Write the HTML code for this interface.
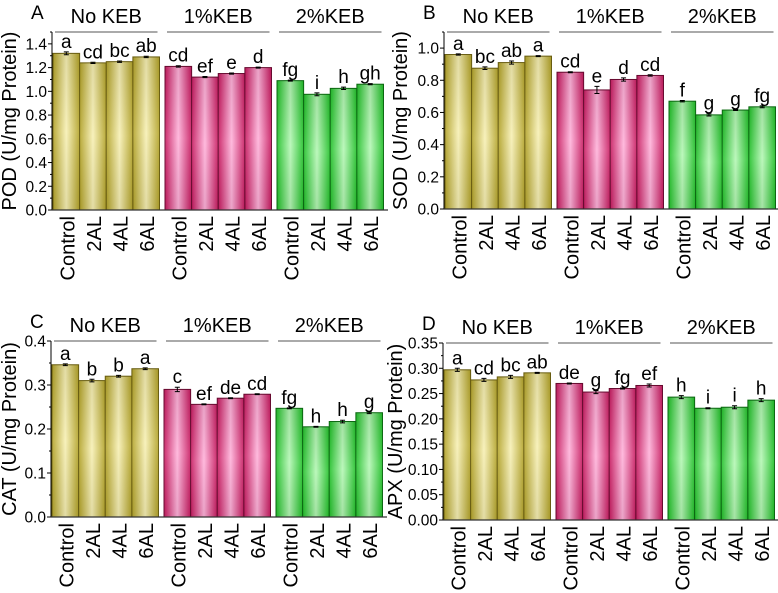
<!DOCTYPE html>
<html><head><meta charset="utf-8"><style>
body{margin:0;background:#fff}
svg{display:block;font-family:"Liberation Sans",Arial,sans-serif}
</style></head><body>
<svg id="chart" width="778" height="593" viewBox="0 0 778 593" xmlns="http://www.w3.org/2000/svg">
<defs>
<linearGradient id="gO" x1="0" x2="1" y1="0" y2="0"><stop offset="0" stop-color="#b3a328"/><stop offset="0.5" stop-color="#f7f0b5"/><stop offset="1" stop-color="#b3a328"/></linearGradient>
<linearGradient id="gP" x1="0" x2="1" y1="0" y2="0"><stop offset="0" stop-color="#c81a60"/><stop offset="0.5" stop-color="#ffb3da"/><stop offset="1" stop-color="#c81a60"/></linearGradient>
<linearGradient id="gG" x1="0" x2="1" y1="0" y2="0"><stop offset="0" stop-color="#20c028"/><stop offset="0.5" stop-color="#b5f7b5"/><stop offset="1" stop-color="#20c028"/></linearGradient>
<linearGradient id="gV" x1="0" x2="0" y1="0" y2="1"><stop offset="0" stop-color="#000" stop-opacity="0.08"/><stop offset="0.5" stop-color="#fff" stop-opacity="0.1"/><stop offset="1" stop-color="#000" stop-opacity="0.08"/></linearGradient>
</defs>
</svg>
<script>
const categories = ["Control","2AL","4AL","6AL"];
const groups = ["No KEB","1%KEB","2%KEB"];
const podValues = [1.32,1.24,1.25,1.29, 1.21,1.12,1.15,1.20, 1.09,0.975,1.025,1.06];
const podErr = [0.012,0.005,0.006,0.006, 0.006,0.005,0.005,0.004, 0.004,0.012,0.01,0.005];
const podLetters = ["a","cd","bc","ab","cd","ef","e","d","fg","i","h","gh"];
const podTicks = ["0.0","0.2","0.4","0.6","0.8","1.0","1.2","1.4"];
const sodValues = [0.96,0.875,0.91,0.95, 0.85,0.74,0.805,0.83, 0.67,0.585,0.615,0.635];
const sodErr = [0.004,0.008,0.01,0.003, 0.003,0.022,0.01,0.004, 0.004,0.007,0.003,0.006];
const sodLetters = ["a","bc","ab","a","cd","e","d","cd","f","g","g","fg"];
const sodTicks = ["0.0","0.2","0.4","0.6","0.8","1.0"];
const catValues = [0.346,0.31,0.32,0.337, 0.29,0.256,0.27,0.279, 0.247,0.205,0.217,0.237];
const catErr = [0.002,0.003,0.002,0.002, 0.005,0.001,0.001,0.001, 0.001,0.001,0.003,0.002];
const catLetters = ["a","b","b","a","c","ef","de","cd","fg","h","h","g"];
const catTicks = ["0.0","0.1","0.2","0.3","0.4"];
const apxValues = [0.297,0.277,0.283,0.291, 0.27,0.253,0.26,0.266, 0.243,0.221,0.223,0.237];
const apxErr = [0.003,0.003,0.003,0.001, 0.001,0.003,0.001,0.003, 0.003,0.001,0.003,0.003];
const apxLetters = ["a","cd","bc","ab","de","g","fg","ef","h","i","i","h"];
const apxTicks = ["0.00","0.05","0.10","0.15","0.20","0.25","0.30","0.35"];

const svg = document.getElementById('chart');
const NS = 'http://www.w3.org/2000/svg';
function mk(tag, attrs, parent){ const e=document.createElementNS(NS,tag); for(const k in attrs) e.setAttribute(k,attrs[k]); (parent||svg).appendChild(e); return e; }
const fills=['url(#gO)','url(#gP)','url(#gG)'];
const strokes=['#6b5f10','#6a0a30','#0a6a10'];

function panel(p){
  const g=mk('g',{});
  
  
  const ymax=p.ymax;
  const y=v=>p.y0-(v/ymax)*(p.y0-p.ytop);
  const gw=106.5, gap=5.5;
  const bw=gw/4;
  const x=(i)=>p.x0+1+Math.floor(i/4)*(gw+gap)+(i%4)*bw;
  const pl=mk('text',{x:p.x0-21,y:p.ytop-13,'font-size':19,fill:'#000'},g); pl.textContent=p.letter;
  
  
  groups.forEach((gn,gi)=>{
    const gx=p.x0+1+gi*(gw+gap);
    const ln=mk('line',{x1:gx+2,x2:gx+gw-2,y1:p.ytop,y2:p.ytop,stroke:'#777','stroke-width':1.2},g);
    
    
    const t=mk('text',{x:gx+gw/2,y:p.ytop-9,'font-size':20,'text-anchor':'middle',fill:'#000'},g); t.textContent=gn;
    
    
  });
  p.values.forEach((v,i)=>{
    const gi=Math.floor(i/4);
    const r=mk('rect',{x:x(i),y:y(v),width:bw,height:p.y0-y(v),fill:fills[gi],stroke:strokes[gi],'stroke-width':1},g);
    
    
    mk('rect',{x:x(i),y:y(v),width:bw,height:p.y0-y(v),fill:'url(#gV)'},g);
    const cx=x(i)+bw/2, e=p.err[i];
    const eb=mk('path',{d:`M${cx},${y(v+e)}V${y(v-e)}M${cx-2.5},${y(v+e)}H${cx+2.5}M${cx-2.5},${y(v-e)}H${cx+2.5}`,stroke:'#000','stroke-width':1,fill:'none'},g);
    
    
    const lt=mk('text',{x:cx,y:y(v+e)-4,'font-size':19,'text-anchor':'middle',fill:'#000'},g); lt.textContent=p.letters[i];
    
    
    const xl=mk('text',{x:0,y:0,'font-size':20,'text-anchor':'end',fill:'#000',transform:`translate(${cx+8},${p.y0+6}) rotate(-90)`},g); xl.textContent=categories[i%4];
    
    
  });
  const ax=mk('line',{x1:p.x0,x2:p.x0,y1:p.ytop,y2:p.y0,stroke:'#000','stroke-width':1},g);
  
  
  const bx=mk('line',{x1:p.x0,x2:p.x0+3*(gw+gap),y1:p.y0,y2:p.y0,stroke:'#333','stroke-width':1.2},g);
  
  
  p.ticks.forEach((tl,i)=>{
    const v=i*p.step, ty=y(v);
    mk('line',{x1:p.x0-4,x2:p.x0,y1:ty,y2:ty,stroke:'#000'},g);
    const mv=v+p.step/2;
    if(mv<=ymax+1e-9) mk('line',{x1:p.x0-2,x2:p.x0,y1:y(mv),y2:y(mv),stroke:'#000'},g);
    const t=mk('text',{x:p.x0-5,y:ty+5.5,'font-size':15.5,'text-anchor':'end',fill:'#000'},g); t.textContent=tl;
    
    
  });
  const yt=mk('text',{x:0,y:0,'font-size':20,'text-anchor':'middle',fill:'#000',transform:`translate(${p.titleX},${(p.ytop+p.y0)/2}) rotate(-90)`},g); yt.textContent=p.title;
  
  
}
panel({name:'pod',letter:'A',x0:52,y0:210,ytop:32,ymax:1.5,step:0.2,ticks:podTicks,values:podValues,err:podErr,letters:podLetters,title:'POD (U/mg Protein)',titleX:16});
panel({name:'sod',letter:'B',x0:444,y0:209,ytop:32,ymax:1.1,step:0.2,ticks:sodTicks,values:sodValues,err:sodErr,letters:sodLetters,title:'SOD (U/mg Protein)',titleX:407});
panel({name:'cat',letter:'C',x0:51,y0:517,ytop:341,ymax:0.4,step:0.1,ticks:catTicks,values:catValues,err:catErr,letters:catLetters,title:'CAT (U/mg Protein)',titleX:16});
panel({name:'apx',letter:'D',x0:443,y0:520,ytop:343,ymax:0.35,step:0.05,ticks:apxTicks,values:apxValues,err:apxErr,letters:apxLetters,title:'APX (U/mg Protein)',titleX:402});
</script>
</body></html>
